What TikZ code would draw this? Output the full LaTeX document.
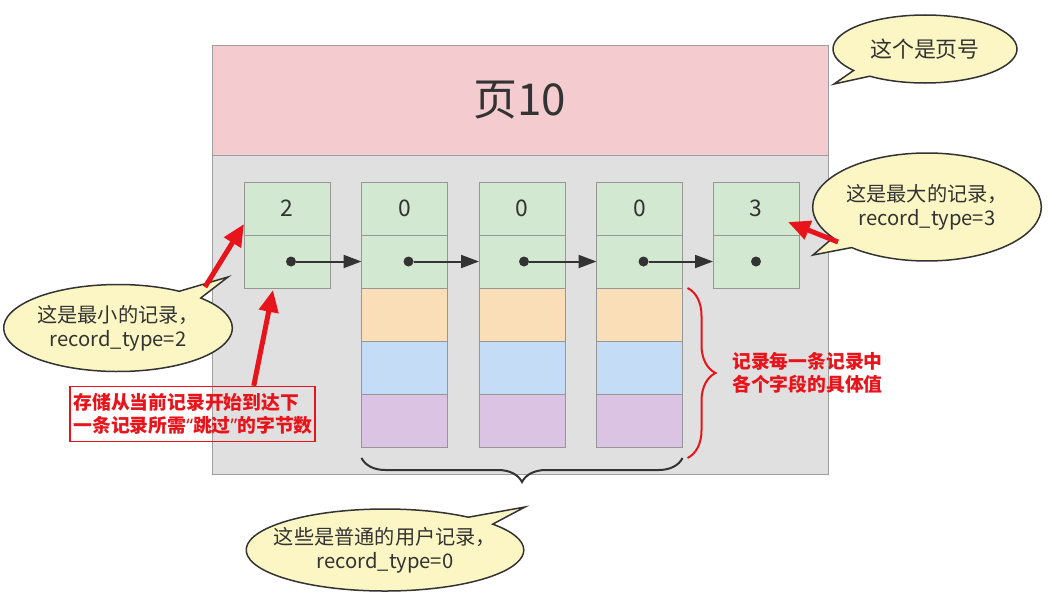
\documentclass[tikz,border=0pt]{standalone}
\usepackage{fontspec}
\setmainfont{Noto Sans CJK SC}
\newfontfamily\quotefont{Noto Sans}
\usepackage{xcolor}
\usepackage{tikz}
\usetikzlibrary{shapes.callouts,arrows.meta,decorations.pathreplacing,positioning}

\definecolor{hdrpink}{HTML}{F4CCCF}
\definecolor{bodygray}{HTML}{E0E0E0}
\definecolor{pageline}{HTML}{9E9E9E}
\definecolor{cellline}{HTML}{969696}
\definecolor{fgreen}{HTML}{D3E8D0}
\definecolor{forange}{HTML}{F9DEB7}
\definecolor{fblue}{HTML}{C4DCF5}
\definecolor{fpurple}{HTML}{DBC3E3}
\definecolor{tipfill}{HTML}{FBF6C4}
\definecolor{darkink}{HTML}{333333}
\definecolor{redmark}{HTML}{E8141C}

\begin{document}
\begin{tikzpicture}[x=0.2mm, y=-0.2mm,
  hdr/.style={draw=pageline, fill=hdrpink, minimum width=123.2mm, minimum height=22mm,
    outer sep=0pt, text=darkink, font=\fontsize{25}{30}\selectfont},
  pagebody/.style={draw=pageline, fill=bodygray, minimum width=123.2mm, minimum height=63.8mm,
    outer sep=0pt},
  cell/.style={draw=cellline, minimum width=17.2mm, minimum height=10.6mm, inner sep=0pt,
    outer sep=0pt, text=darkink, font=\fontsize{13}{15}\selectfont},
  dot/.style={circle, fill=darkink, minimum size=2mm, inner sep=0pt},
  link/.style={draw=darkink, line width=0.4mm, -{Triangle[length=3.6mm,width=2.6mm]}},
  tip/.style={ellipse callout, draw=darkink, fill=tipfill, line width=0.3mm, inner sep=0pt,
    callout pointer arc=14, align=center, text=darkink,
    font=\fontsize{11.5}{13.5}\selectfont},
  redarrow/.style={draw=redmark, line width=1mm, -{Triangle[length=4.4mm,width=3.8mm]}},
  redtext/.style={text=redmark, font=\fontsize{10.7}{12.8}\selectfont\bfseries, align=left}]

\useasboundingbox (0,0) rectangle (1051,604);

% page
\node[hdr] (hdr) at (520,100) {页10};
\node[pagebody, below=0pt of hdr] (body) {};

% records
\node[cell, fill=fgreen] (t1) at (287,208.5) {2};
\node[cell, fill=fgreen, below=0pt of t1] (b1) {};

\node[cell, fill=fgreen] (t2) at (404.5,208.5) {0};
\node[cell, fill=fgreen, below=0pt of t2] (b2) {};
\node[cell, fill=forange, below=0pt of b2] (o2) {};
\node[cell, fill=fblue, below=0pt of o2] (u2) {};
\node[cell, fill=fpurple, below=0pt of u2] (p2) {};

\node[cell, fill=fgreen] (t3) at (522,208.5) {0};
\node[cell, fill=fgreen, below=0pt of t3] (b3) {};
\node[cell, fill=forange, below=0pt of b3] (o3) {};
\node[cell, fill=fblue, below=0pt of o3] (u3) {};
\node[cell, fill=fpurple, below=0pt of u3] (p3) {};

\node[cell, fill=fgreen] (t4) at (639.5,208.5) {0};
\node[cell, fill=fgreen, below=0pt of t4] (b4) {};
\node[cell, fill=forange, below=0pt of b4] (o4) {};
\node[cell, fill=fblue, below=0pt of o4] (u4) {};
\node[cell, fill=fpurple, below=0pt of u4] (p4) {};

\node[cell, fill=fgreen] (t5) at (756,208.5) {3};
\node[cell, fill=fgreen, below=0pt of t5] (b5) {};

% next-record pointers
\node[dot] (d1) at ([xshift=0.8mm]b1.center) {};
\node[dot] (d2) at ([xshift=0.8mm]b2.center) {};
\node[dot] (d3) at ([xshift=0.4mm]b3.center) {};
\node[dot] (d4) at ([xshift=0.8mm]b4.center) {};
\node[dot] (d5) at (b5.center) {};
\draw[link] (d1) -- (b2.west);
\draw[link] (d2) -- (b3.west);
\draw[link] (d3) -- (b4.west);
\draw[link] (d4) -- (b5.west);

% braces
\draw[darkink, line width=0.4mm, decorate, decoration={brace, amplitude=4.8mm, mirror}]
  ([yshift=-2.2mm]p2.south west) -- ([yshift=-2.2mm]p4.south east);
\draw[redmark, line width=0.4mm, decorate, decoration={brace, amplitude=5.6mm}]
  ([xshift=1mm]o4.north east) -- ([xshift=1mm,yshift=-2.2mm]p4.south east);
\node[redtext, anchor=west] (fields) at (726,373) {记录每一条记录中\\各个字段的具体值};

% callouts
\coordinate (ptrpage) at (834,84);
\coordinate (ptrmax) at (813,255);
\coordinate (ptrmin) at (228,277);
\coordinate (ptruser) at (525,507);
\node[tip, minimum width=36.8mm, minimum height=13.6mm, callout absolute pointer={(ptrpage)},
  font=\fontsize{12.5}{15}\selectfont] (cpage) at (925,49) {这个是页号};
\node[tip, minimum width=44.8mm, minimum height=21.6mm, callout absolute pointer={(ptrmax)}]
  (cmax) at (927,207) {这是最大的记录，\\record\_type=3};
\node[tip, minimum width=44mm, minimum height=17.4mm, callout absolute pointer={(ptrmin)}]
  (cmin) at (118,328) {这是最小的记录，\\record\_type=2};
\node[tip, minimum width=54.8mm, minimum height=16.4mm, inner xsep=-2.6mm,
  callout absolute pointer={(ptruser)}] (cuser) at (385,550) {这些是普通的用户记录，\\record\_type=0};

% red note
\node[redtext, draw=redmark, line width=0.3mm, inner xsep=0.6mm, inner ysep=0.8mm,
  minimum width=49mm, minimum height=11mm, text width=47.6mm] (skip) at (192.5,414)
  {存储从当前记录开始到达下\\一条记录所需{\quotefont“}跳过{\quotefont”}的字节数};

% red arrows
\coordinate (amin) at (205,287);
\coordinate (amax) at (838,242);
\draw[redarrow] (amin) -- ([yshift=2.2mm]t1.south west);
\draw[redarrow] ([xshift=-12.4mm]skip.north east) -- ([xshift=-2.8mm,yshift=-0.4mm]b1.south);
\draw[redarrow] (amax) -- ([xshift=-2.2mm,yshift=2.6mm]t5.south east);
\end{tikzpicture}
\end{document}
